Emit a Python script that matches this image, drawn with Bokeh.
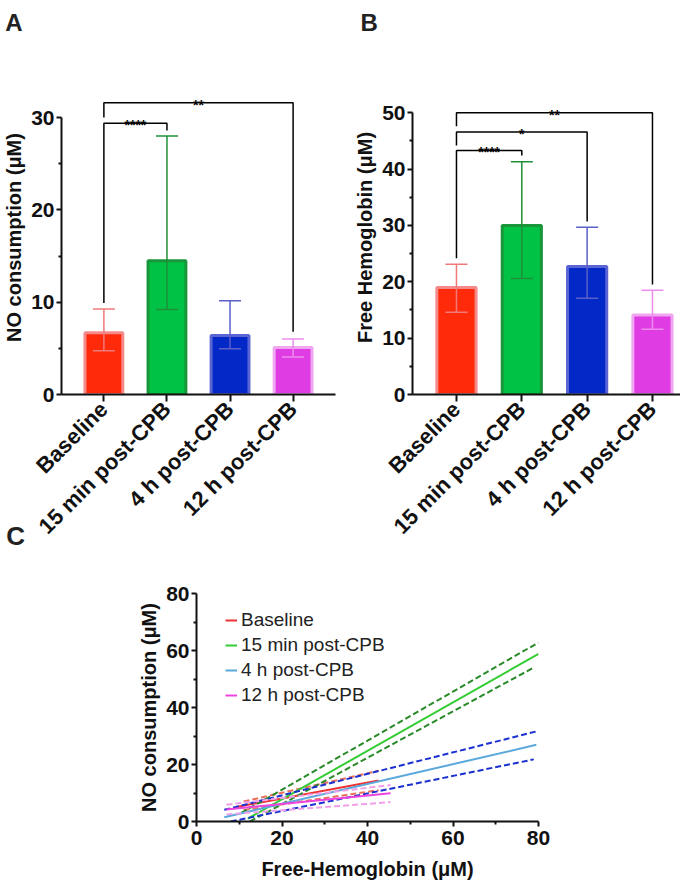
from math import pi
from bokeh.plotting import figure
from bokeh.layouts import row, column
from bokeh.models import (ColumnDataSource, Range1d, FixedTicker, Whisker, TeeHead,
                          Label, Legend, LegendItem)
from bokeh.embed import file_html
from bokeh.resources import INLINE
from bokeh.core.properties import value

FONT = "Liberation Sans"

# ---------------- data ----------------
groups = ["Baseline", "15 min post-CPB", "4 h post-CPB", "12 h post-CPB"]

# Panel A: NO consumption (uM)
no_mean = [6.7, 14.5, 6.4, 5.1]
no_lo = [4.75, 9.2, 4.95, 4.05]
no_hi = [9.25, 28.0, 10.15, 6.0]

# Panel B: Free hemoglobin (uM)
hb_mean = [19.0, 30.0, 22.7, 14.1]
hb_lo = [14.6, 20.6, 17.1, 11.6]
hb_hi = [23.1, 41.3, 29.7, 18.5]

# significance brackets
no_sig_a = [0, 0]
no_sig_b = [1, 3]
no_sig_h = [29.4, 31.6]
no_sig_left = [9.9, 30.0]
no_sig_right = [28.6, 6.8]
no_sig_txt = ["****", "**"]

hb_sig_a = [0, 0, 0]
hb_sig_b = [1, 2, 3]
hb_sig_h = [43.3, 46.6, 50.0]
hb_sig_left = [24.2, 44.2, 47.6]
hb_sig_right = [42.4, 30.7, 19.5]
hb_sig_txt = ["****", "*", "**"]

# Panel C: regression lines (fit, upper CI, lower CI)
bl_fit_x = [9.0, 42.6];   bl_fit_y = [5.0, 14.4]
bl_hi_x = [11.0, 42.6];   bl_hi_y = [7.0, 17.8]
bl_lo_x = [11.0, 42.6];   bl_lo_y = [4.0, 11.0]

m15_fit_x = [12.0, 80.0]; m15_fit_y = [1.0, 58.8]
m15_hi_x = [10.5, 80.0];  m15_hi_y = [3.0, 62.8]
m15_lo_x = [12.5, 79.0];  m15_lo_y = [0.0, 54.1]

h4_fit_x = [6.5, 79.5];   h4_fit_y = [1.5, 26.9]
h4_hi_x = [6.5, 79.5];    h4_hi_y = [4.1, 31.6]
h4_lo_x = [8.0, 78.9];    h4_lo_y = [0.0, 21.8]

h12_fit_x = [7.0, 45.4];  h12_fit_y = [4.2, 9.9]
h12_hi_x = [7.0, 45.4];   h12_hi_y = [5.9, 12.8]
h12_lo_x = [7.0, 45.4];   h12_lo_y = [2.5, 6.8]

# ---------------- styles ----------------
bar_fill = ["#ff2a0a", "#00c244", "#0328c8", "#e03ce4"]
bar_line = ["#f58a8a", "#1a963a", "#5a64d2", "#f0a6f0"]
err_col = ["#f07a7a", "#1f8f3a", "#5a60c8", "#ee8cee"]

AX_COL = "#111111"
TICK_SIZE = "21px"


def style_axis(ax, size=TICK_SIZE):
    ax.axis_line_width = 2
    ax.axis_line_color = AX_COL
    ax.major_tick_line_width = 2
    ax.major_tick_line_color = AX_COL
    ax.minor_tick_line_width = 2
    ax.minor_tick_line_color = AX_COL
    ax.major_tick_in = 0
    ax.minor_tick_in = 0
    ax.major_tick_out = 5
    ax.minor_tick_out = 3
    ax.major_label_text_font = FONT
    ax.major_label_text_font_style = "bold"
    ax.major_label_text_font_size = size
    ax.major_label_text_color = AX_COL
    ax.major_label_standoff = 2
    ax.axis_label_text_font = FONT
    ax.axis_label_text_font_style = "bold"
    ax.axis_label_text_font_size = "20px"
    ax.axis_label_text_color = AX_COL
    ax.axis_label_standoff = 3


class Geo:
    """pixel geometry of a plot frame, used to place free texts"""
    def __init__(self, fl, fr, ft, fb, xr, yr):
        self.fl, self.fr, self.ft, self.fb = fl, fr, ft, fb
        self.xr, self.yr = xr, yr

    def x(self, px):
        return self.xr[0] + (px - self.fl) / (self.fr - self.fl) * (self.xr[1] - self.xr[0])

    def y(self, py):
        return self.yr[0] + (self.fb - py) / (self.fb - self.ft) * (self.yr[1] - self.yr[0])


def add_letter(p, g, px, py, text, size):
    # placed in a side panel so that it is not clipped to the plot frame
    p.add_layout(Label(x=g.x(px), y=g.y(py), text=text,
                       text_align="left", text_baseline="alphabetic",
                       text_font=FONT, text_font_style="bold",
                       text_font_size=size, text_color="#222222"), "above")


def bar_panel(width, left, g, yticks, yminor, ybound, means, lo, hi,
              sa, sb, sh, sleft, sright, stxt, ylabel):
    p = figure(width=width, height=550, x_range=Range1d(*g.xr), y_range=Range1d(*g.yr),
               output_backend="svg", toolbar_location=None,
               min_border_left=round(g.fl - left), min_border_right=round(left + width - g.fr),
               min_border_top=round(g.ft), min_border_bottom=round(550 - g.fb))
    p.outline_line_color = None
    p.grid.visible = False
    p.background_fill_color = "white"

    xs = list(range(len(groups)))
    src = ColumnDataSource(dict(x=xs, top=means, fill=bar_fill, line=bar_line))
    p.vbar(x="x", top="top", width=0.6, source=src, fill_color="fill",
           line_color="line", line_width=3)

    for i in xs:
        s = ColumnDataSource(dict(x=[i], lo=[lo[i]], hi=[hi[i]]))
        w = Whisker(source=s, base="x", lower="lo", upper="hi",
                    line_color=err_col[i], line_width=1.5,
                    upper_head=TeeHead(size=22, line_color=err_col[i], line_width=1.5),
                    lower_head=TeeHead(size=22, line_color=err_col[i], line_width=1.5),
                    level="annotation")
        p.add_layout(w)

    bx = [[a, a, b, b] for a, b in zip(sa, sb)]
    by = [[l, h, h, r] for l, h, r in zip(sleft, sh, sright)]
    p.multi_line(bx, by, line_color="black", line_width=1.5)
    p.text(x=[(a + b) / 2 for a, b in zip(sa, sb)], y=sh, text=stxt,
           text_font=value(FONT), text_font_style="bold", text_font_size="14px",
           text_align="center", text_baseline="alphabetic", y_offset=2,
           text_color="black")

    yax = p.yaxis[0]
    style_axis(yax)
    yax.ticker = FixedTicker(ticks=yticks, minor_ticks=yminor)
    yax.bounds = ybound
    yax.axis_label = ylabel

    xax = p.xaxis[0]
    style_axis(xax, "22px")
    xax.ticker = FixedTicker(ticks=xs, minor_ticks=[])
    xax.major_label_overrides = {i: gname for i, gname in enumerate(groups)}
    xax.major_label_orientation = pi / 4
    xax.major_tick_out = 7
    xax.major_label_standoff = 4
    return p


gA = Geo(57, 335, 80, 395, (-0.672, 3.672), (0, 34.02))
pA = bar_panel(340, 0, gA, [0, 10, 20, 30], [5, 15, 25], (0, 30),
               no_mean, no_lo, no_hi, no_sig_a, no_sig_b, no_sig_h, no_sig_left,
               no_sig_right, no_sig_txt, "NO consumption (μM)")
add_letter(pA, gA, 0, 22, "A", "24px")
add_letter(pA, gA, 1, 537, "C", "26px")

gB = Geo(412, 680, 80, 395, (-0.673, 3.429), (0, 55.72))
pB = bar_panel(340, 340, gB, [0, 10, 20, 30, 40, 50], [5, 15, 25, 35, 45], (0, 50),
               hb_mean, hb_lo, hb_hi, hb_sig_a, hb_sig_b, hb_sig_h, hb_sig_left,
               hb_sig_right, hb_sig_txt, "Free Hemoglobin (μM)")
add_letter(pB, gB, 360, 22, "B", "24px")

# ---------------- Panel C ----------------
gC = Geo(196, 538, 593, 821, (0, 80), (0, 80))
C_TOP = 550
C_H = 337
pC = figure(width=680, height=C_H, x_range=Range1d(*gC.xr), y_range=Range1d(*gC.yr),
            output_backend="svg", toolbar_location=None,
            min_border_left=gC.fl, min_border_right=680 - gC.fr,
            min_border_top=gC.ft - C_TOP, min_border_bottom=C_TOP + C_H - gC.fb)
pC.outline_line_color = None
pC.grid.visible = False

series = [
    ("Baseline", bl_fit_x, bl_fit_y, bl_hi_x, bl_hi_y, bl_lo_x, bl_lo_y, "#ee3333", "#e8705a"),
    ("15 min post-CPB", m15_fit_x, m15_fit_y, m15_hi_x, m15_hi_y, m15_lo_x, m15_lo_y, "#33cc33", "#2a8a2a"),
    ("4 h post-CPB", h4_fit_x, h4_fit_y, h4_hi_x, h4_hi_y, h4_lo_x, h4_lo_y, "#5aa8dc", "#1a30d0"),
    ("12 h post-CPB", h12_fit_x, h12_fit_y, h12_hi_x, h12_hi_y, h12_lo_x, h12_lo_y, "#ee44dd", "#f0a0e8"),
]
items = []
for name, fx, fy, hx, hy, lx, ly, sc, dc in series:
    pC.line(hx, hy, line_color=dc, line_width=2, line_dash="6 3")
    pC.line(lx, ly, line_color=dc, line_width=2, line_dash="6 3")
    r = pC.line(fx, fy, line_color=sc, line_width=2)
    items.append(LegendItem(label=name, renderers=[r]))

leg = Legend(items=items, location=(29, 115), padding=0, spacing=3, label_height=22,
             glyph_height=22, glyph_width=12, label_standoff=4,
             label_text_font=FONT, label_text_font_size="19px", label_text_color="#222222",
             border_line_color=None, background_fill_alpha=0)
pC.add_layout(leg)

for ax in (pC.xaxis[0], pC.yaxis[0]):
    style_axis(ax)
    ax.ticker = FixedTicker(ticks=[0, 20, 40, 60, 80], minor_ticks=[10, 30, 50, 70])
pC.xaxis[0].major_label_standoff = 4
pC.xaxis[0].axis_label_standoff = 10
pC.xaxis[0].axis_label = "Free-Hemoglobin (μM)"
pC.yaxis[0].axis_label = "NO consumption (μM)"

layout = column(row(pA, pB), pC)
open("out.html", "w").write(file_html(layout, INLINE))
